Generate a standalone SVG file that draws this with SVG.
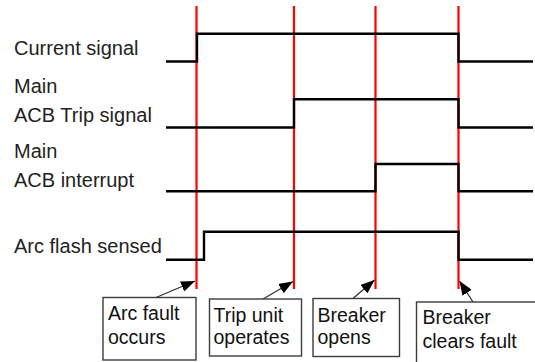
<svg xmlns="http://www.w3.org/2000/svg" width="535" height="362" viewBox="0 0 535 362">
<defs>
<marker id="ah" viewBox="0 0 14 11" refX="14" refY="5.5" markerWidth="14" markerHeight="11" orient="auto" markerUnits="userSpaceOnUse">
<path d="M0,0 L14,5.5 L0,11 z" fill="#000"/>
</marker>
<style>
.lbl{font-family:"Liberation Sans",Arial,sans-serif;font-size:20px;fill:#222}
.bx{font-family:"Liberation Sans",Arial,sans-serif;font-size:19.5px;fill:#111}
.red{stroke:#ff0000;stroke-width:2.2;fill:none}
.sig{stroke:#000;stroke-width:2.4;fill:none;stroke-linejoin:miter}
.box{fill:#fff;stroke:#3c3c3c;stroke-width:1.4}
.arr{stroke:#333;stroke-width:1.3;fill:none;marker-end:url(#ah)}
</style>
</defs>
<rect width="535" height="362" fill="#fff"/>
<g id="labels">
<text class="lbl" x="14" y="55">Current signal</text>
<text class="lbl" x="14" y="93">Main</text>
<text class="lbl" x="14" y="121.5">ACB Trip signal</text>
<text class="lbl" x="14" y="158">Main</text>
<text class="lbl" x="14" y="186.5">ACB interrupt</text>
<text class="lbl" x="14" y="252.5">Arc flash sensed</text>
</g>
<g id="event-lines">
<line class="red" x1="196.5" y1="6" x2="196.5" y2="289"/>
<line class="red" x1="294" y1="6" x2="294" y2="289"/>
<line class="red" x1="375.5" y1="6" x2="375.5" y2="289"/>
<line class="red" x1="458.5" y1="6" x2="458.5" y2="289"/>
</g>
<g id="signals">
<polyline id="current" class="sig" points="166,61.5 197,61.5 197,33.7 458.5,33.7 458.5,61.5 533,61.5"/>
<polyline id="trip" class="sig" points="166,127.5 294,127.5 294,99.3 458.5,99.3 458.5,127.5 533,127.5"/>
<polyline id="interrupt" class="sig" points="166,191.3 375.5,191.3 375.5,164 458.5,164 458.5,191.3 533,191.3"/>
<polyline id="arcflash" class="sig" points="166,259.7 204,259.7 204,231.7 458.5,231.7 458.5,259.7 533,259.7"/>
</g>
<g id="connectors">
<line class="arr" x1="156" y1="297.5" x2="195" y2="281"/>
<line class="arr" x1="263" y1="299" x2="293" y2="281.5"/>
<line class="arr" x1="353" y1="298.5" x2="374.5" y2="280"/>
<line class="arr" x1="473" y1="302" x2="459.5" y2="281"/>
</g>
<g id="box-arc-fault">
<rect class="box" x="103" y="297.5" width="93" height="62.5"/>
<text class="bx" x="108" y="320">Arc fault</text>
<text class="bx" x="108" y="343.5">occurs</text>
</g>
<g id="box-trip-unit">
<rect class="box" x="209.5" y="299" width="92" height="57"/>
<text class="bx" x="213.5" y="321.5">Trip unit</text>
<text class="bx" x="213.5" y="343.5">operates</text>
</g>
<g id="box-breaker-opens">
<rect class="box" x="313" y="298.5" width="86.5" height="58"/>
<text class="bx" x="317.5" y="321.5">Breaker</text>
<text class="bx" x="317.5" y="344">opens</text>
</g>
<g id="box-breaker-clears">
<rect class="box" x="416.5" y="302" width="125" height="65"/>
<text class="bx" x="422.5" y="323.5">Breaker</text>
<text class="bx" x="422.5" y="348">clears fault</text>
</g>
</svg>
